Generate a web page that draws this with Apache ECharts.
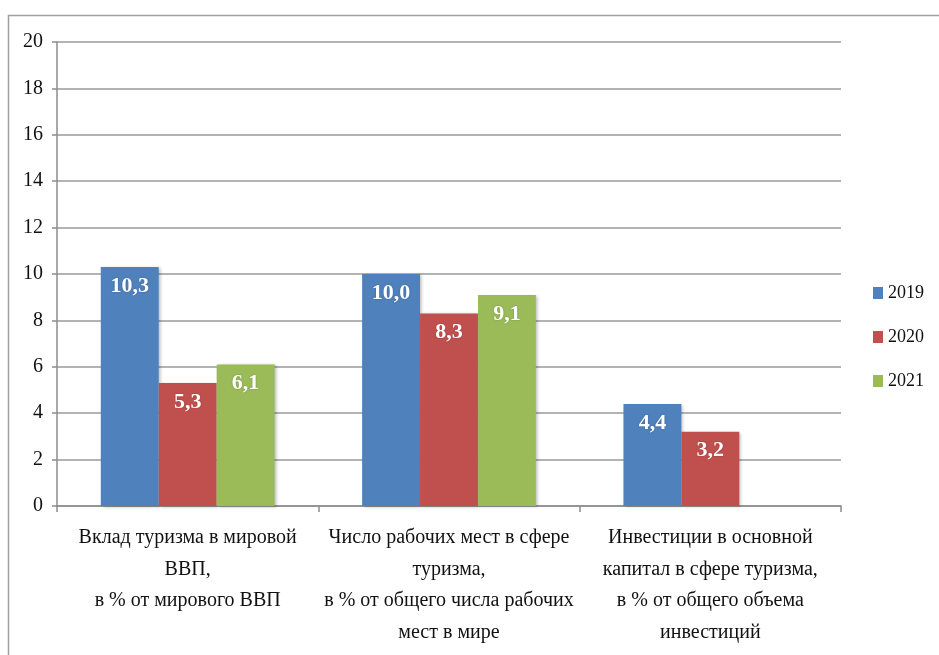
<!DOCTYPE html>
<html><head><meta charset="utf-8">
<script src="https://cdn.jsdelivr.net/npm/echarts@6/dist/echarts.min.js"></script>
<style>html,body{margin:0;padding:0;background:#fff}#c{width:939px;height:655px}</style>
</head><body><div id="c"></div>
<script>
const categories = [
  "Вклад туризма в мировой\nВВП,\nв % от мирового ВВП",
  "Число рабочих мест в сфере\nтуризма,\nв % от общего числа рабочих\nмест в мире",
  "Инвестиции в основной\nкапитал в сфере туризма,\nв % от общего объема\nинвестиций"
];
const seriesNames = ["2019", "2020", "2021"];
const values2019 = [10.3, 10.0, 4.4];
const values2020 = [5.3, 8.3, 3.2];
const values2021 = [6.1, 9.1, null];
const colors = ["#4F81BD", "#C0504D", "#9BBB59"];
const font = "'Liberation Serif', 'Times New Roman', serif";

const chart = echarts.init(document.getElementById('c'));
const mk = (name, data, color) => ({
  name, type: 'bar', data, barGap: '0%', barCategoryGap: '33.5%',
  itemStyle: { color, shadowColor: 'rgba(0,0,0,0.25)', shadowBlur: 3, shadowOffsetX: 2, shadowOffsetY: 1 },
  label: { show: true, position: 'insideTop', distance: 8, color: '#fff', fontFamily: font, fontSize: 22, fontWeight: 'bold',
    textShadowColor: 'rgba(0,0,0,0.25)', textShadowBlur: 2,
    formatter: p => p.value == null ? '' : p.value.toFixed(1).replace('.', ',') }
});
chart.setOption({
  animation: false,
  textStyle: { fontFamily: font },
  graphic: [{ type: 'rect', left: 6, top: 13, shape: { width: 1000, height: 700 }, style: { fill: 'none', stroke: '#a0a0a0', lineWidth: 1.5 }, silent: true }],
  grid: { left: 57, top: 42, right: 98, bottom: 149 },
  legend: { orient: 'vertical', left: 868, top: 279, itemGap: 26, icon: 'rect', itemWidth: 10, itemHeight: 12,
    textStyle: { fontFamily: font, fontSize: 18, color: '#111' }, data: seriesNames },
  xAxis: { type: 'category', data: categories,
    axisLine: { lineStyle: { color: '#8c8c8c', width: 1.5 } },
    axisTick: { show: true, length: 6, lineStyle: { color: '#8c8c8c', width: 1.5 } },
    axisLabel: { interval: 0, margin: 16, fontFamily: font, fontSize: 20, lineHeight: 31.5, color: '#111' } },
  yAxis: { type: 'value', min: 0, max: 20, interval: 2,
    axisLine: { show: true, lineStyle: { color: '#8c8c8c', width: 1.5 } },
    axisTick: { show: true, length: 5, lineStyle: { color: '#8c8c8c', width: 1.5 } },
    splitLine: { lineStyle: { color: '#9a9a9a', width: 1.5 } },
    axisLabel: { margin: 14, fontFamily: font, fontSize: 20, color: '#111' } },
  series: [mk(seriesNames[0], values2019, colors[0]), mk(seriesNames[1], values2020, colors[1]), mk(seriesNames[2], values2021, colors[2])]
});
</script></body></html>
